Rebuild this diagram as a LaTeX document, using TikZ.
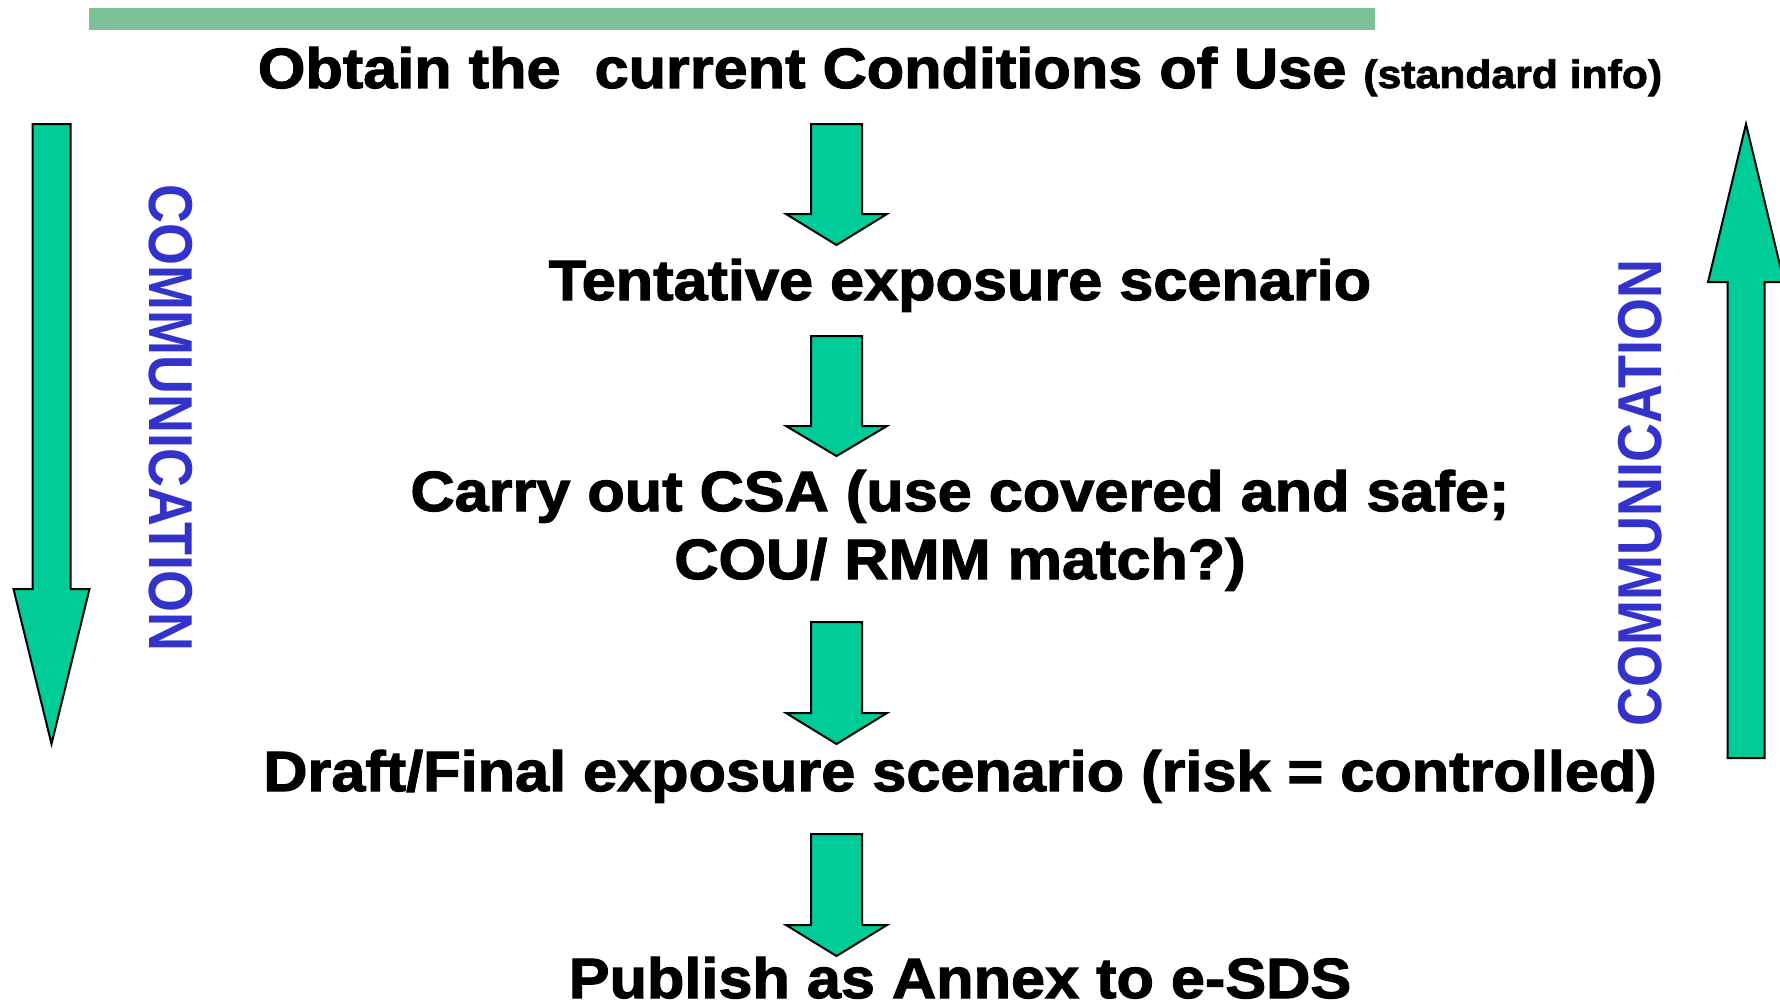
\documentclass[tikz,border=0pt]{standalone}
\usepackage{fontspec}
\setmainfont{Liberation Sans}[BoldFeatures={FakeBold=2,FakeStretch=1.078}]
\newfontfamily\plainsans{Liberation Sans}
\definecolor{arrowgreen}{RGB}{0,204,153}
\definecolor{barcolor}{RGB}{128,192,152}
\definecolor{commblue}{RGB}{51,51,204}
\newcommand\blockarrow[6]{% cx, tail y, head-base y, tip y, half shaft, half head
  \filldraw[blockarrowstyle] (#1-#5,#2) -- (#1+#5,#2) -- (#1+#5,#3) -- (#1+#6,#3)
    -- (#1,#4) -- (#1-#6,#3) -- (#1-#5,#3) -- cycle;}
\begin{document}
\begin{tikzpicture}[x=0.5pt,y=-0.5pt,
  blockarrowstyle/.style={fill=arrowgreen,draw=black,line width=1pt,line join=miter},
  steptext/.style={anchor=base,inner sep=0pt,font=\fontsize{28.4}{34}\selectfont\bfseries,text=black},
  commtext/.style={inner sep=0pt,font=\plainsans\fontsize{31}{36}\selectfont\bfseries,text=commblue}]
\useasboundingbox (0,0) rectangle (1780,1006);
\fill[barcolor] (89,8) rectangle (1375,30);
\node[steptext] (title) at (960,88) {Obtain the\ \ current Conditions of Use {\fontsize{19.8}{24}\selectfont(standard info)}};
\node[steptext] (tentative) at (960,300) {Tentative exposure scenario};
\node[steptext] (csa1) at (960,511) {Carry out CSA (use covered and safe;};
\node[steptext] (csa2) at (960,579) {COU/ RMM match?)};
\node[steptext] (draft) at (960,791) {Draft/Final exposure scenario (risk = controlled)};
\node[steptext] (publish) at (960,998) {Publish as Annex to e-SDS};
\blockarrow{836.5}{124}{214}{245}{25.5}{50.5}
\blockarrow{836.5}{336}{426}{456}{25.5}{50.5}
\blockarrow{836.5}{622}{713}{744}{25.5}{50.5}
\blockarrow{836.5}{834}{925}{956}{25.5}{50.5}
\blockarrow{51.5}{124}{589}{744}{19}{38}
\blockarrow{1746}{758}{282}{124}{18.5}{38}
\node[commtext,rotate=-90] (commL) at (170.5,418) {\scalebox{0.87}[1]{COMMUNICATION}};
\node[commtext,rotate=90] (commR) at (1640.5,493) {\scalebox{0.87}[1]{COMMUNICATION}};
\end{tikzpicture}
\end{document}
